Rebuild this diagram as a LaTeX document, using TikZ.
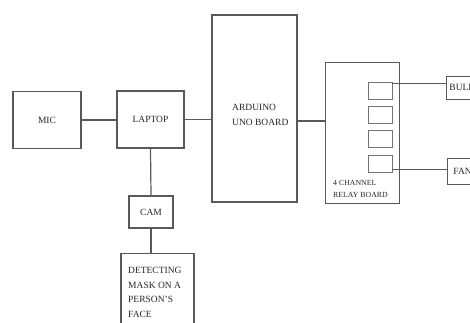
\documentclass[tikz,border=0pt]{standalone}
\usepackage{fontspec}
\setmainfont{Liberation Serif}
\usetikzlibrary{positioning,calc}

\begin{document}
\begin{tikzpicture}[
      x=1pt, y=-1pt,
      box/.style={draw=black!65, line width=1.1pt, inner sep=0pt, text=black!85, font=\fontsize{9.5}{11}\selectfont},
      relay/.style={draw=black!55, line width=0.9pt, minimum width=24pt, minimum height=17pt},
      lbl/.style={text=black!85, align=left, inner sep=0pt},
      wire/.style={draw=black!65, line width=1.2pt}
    ]
      \useasboundingbox (0,0) rectangle (470,323);
      \clip (0,0) rectangle (470,323);
      \node[box, minimum width=68pt, minimum height=57pt] (mic) at (47,120) {MIC};
      \node[box, minimum width=67pt, minimum height=57pt] (laptop) at (150.5,119.5) {LAPTOP};
      \node[box, minimum width=85pt, minimum height=187pt] (ard) at (254.5,108.5) {};
      \node[lbl, anchor=north west, font=\fontsize{9.5}{15}\selectfont] (ardtxt) at (232,104) {ARDUINO\\UNO BOARD};
      \node[box, line width=0.9pt, minimum width=74pt, minimum height=141pt] (rb) at (362,132.5) {};
      \foreach \i in {1,...,4}
        \node[relay] (r\i) at (380,{90.5+24.4*(\i-1)}) {};
      \node[lbl, anchor=north west, font=\fontsize{7.8}{12}\selectfont] (rbtxt) at (333,180.5) {4 CHANNEL\\RELAY BOARD};
      \node[box, line width=0.9pt, anchor=west, text width=54pt, inner xsep=3pt, minimum height=23pt, align=left] (bulb) at (446,87.5) {BULB};
      \node[box, line width=0.9pt, anchor=west, text width=48pt, inner xsep=6pt, minimum height=26pt, align=left] (fan) at (447,171) {FAN};
      \node[box, minimum width=44pt, minimum height=32pt] (cam) at (151,212) {CAM};
      \node[box, anchor=north, minimum width=73pt, minimum height=90pt] (det) at (157.5,253) {};
      \node[lbl, anchor=north west, font=\fontsize{9.5}{14.5}\selectfont] (dettxt) at (128,267.5) {DETECTING\\MASK ON A\\PERSON'S\\FACE};
      \draw[wire] (mic.east) -- (laptop.west |- mic.east);
      \draw[wire] (laptop.east) -- (ard.west |- laptop.east);
      \draw[wire] (ard.east) ++(0,12.5) coordinate (a1) -- (a1 -| rb.west);
      \draw[wire] (laptop.south) -- (cam.north);
      \draw[wire] (cam.south) -- (cam.south |- det.north);
      \draw[wire, line width=0.9pt] (r1.north east) ++(0,2) coordinate (b1) -- (b1 -| bulb.west);
      \draw[wire, line width=0.9pt] (r4.south east) ++(0,-3) coordinate (f1) -- (f1 -| fan.west);
    \end{tikzpicture}
\end{document}
